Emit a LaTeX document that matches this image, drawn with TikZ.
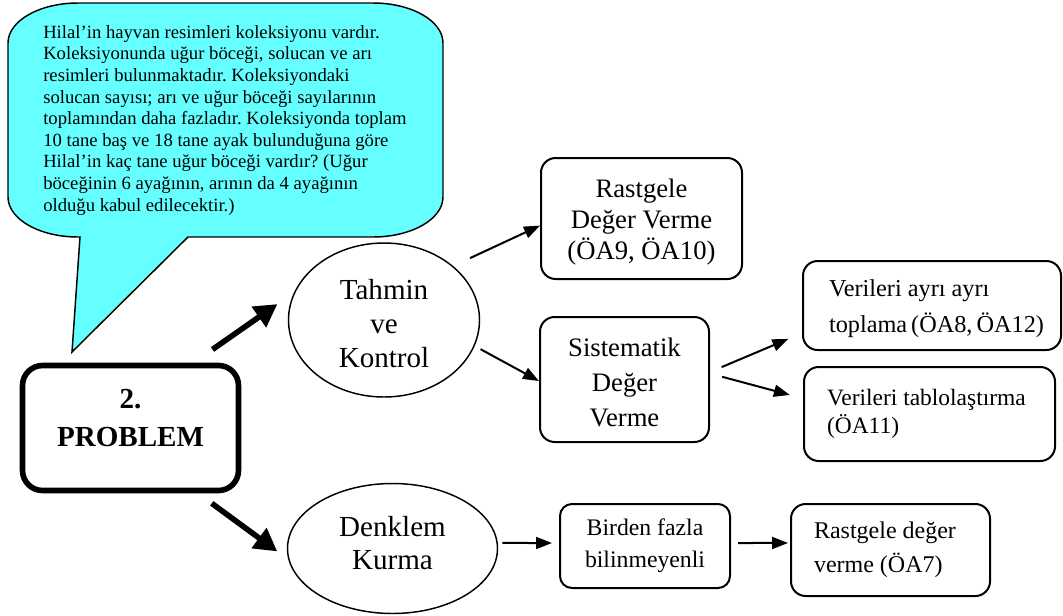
\documentclass[tikz,border=0pt]{standalone}
\usepackage{fontspec}
\setmainfont{Liberation Serif}
\usetikzlibrary{shapes.geometric,arrows.meta}
\definecolor{bubble}{RGB}{102,255,255}
\frenchspacing
\begin{document}
\begin{tikzpicture}[x=0.75pt,y=-0.75pt,
	oval/.style={draw,ellipse,line width=1.1pt,inner sep=0pt,align=center,font=\fontsize{21.8}{25.5}\selectfont},
	roundbox/.style={draw,rounded corners=11pt,line width=1.5pt,inner sep=0pt,align=center},
	notebox/.style={draw,rounded corners=11pt,line width=1.5pt,inner ysep=0pt,align=flush left,font=\fontsize{17.6}{27}\selectfont},
	smallarrow/.style={line width=1.5pt,-{Triangle[length=12pt,width=9pt]}},
	bigarrow/.style={line width=4.2pt,-{Triangle[length=17pt,width=18pt]}}]
	\useasboundingbox (0,0) rectangle (1063,615);

	% speech bubble with the problem text
	\draw[fill=bubble,line width=1.1pt] (78,3) -- (373,3) .. controls (411.6,3) and (443,20.9) .. (443,43)
		-- (443,197) .. controls (443,219.1) and (411.6,237) .. (373,237) -- (188,237) -- (72,352) -- (80,237)
		-- (78,237) .. controls (39.4,237) and (8,219.1) .. (8,197) -- (8,43) .. controls (8,20.9) and (39.4,3) .. (78,3) -- cycle;
	\node[anchor=north west,inner sep=0pt,align=left,font=\fontsize{14}{16.2}\selectfont] at (43,25) (story)
		{Hilal’in hayvan resimleri koleksiyonu vardır.\\
		Koleksiyonunda uğur böceği, solucan ve arı\\
		resimleri bulunmaktadır. Koleksiyondaki\\
		solucan sayısı; arı ve uğur böceği sayılarının\\
		toplamından daha fazladır. Koleksiyonda toplam\\
		10 tane baş ve 18 tane ayak bulunduğuna göre\\
		Hilal’in kaç tane uğur böceği vardır? (Uğur\\
		böceğinin 6 ayağının, arının da 4 ayağının\\
		olduğu kabul edilecektir.)};

	\node[draw,line width=4.2pt,rounded corners=15pt,minimum width=162pt,minimum height=93.75pt,align=center,
		font=\fontsize{21.8}{28.5}\selectfont\bfseries] at (130.5,428) (prob) {2.\\PROBLEM\\[-13.2pt]\mbox{}};

	\node[oval,minimum width=143.25pt,minimum height=115.5pt,text height=71.9pt] at (384,320) (tahmin) {Tahmin\\ve\\Kontrol};
	\node[oval,minimum width=157.5pt,minimum height=97.5pt,text height=32.2pt,font=\fontsize{21.8}{24.75}\selectfont] at (392.5,548.5) (denk) {Denklem\\Kurma};

	\node[roundbox,minimum width=150.75pt,minimum height=90.75pt,text height=66.2pt,font=\fontsize{20}{23.25}\selectfont] at (641.5,218.5) (rast) {Rastgele\\Değer Verme\\(ÖA9, ÖA10)};
	\node[roundbox,minimum width=126.75pt,minimum height=93.75pt,text height=71.2pt,font=\fontsize{20}{26.25}\selectfont] at (624.5,379.5) (sist) {Sistematik\\Değer\\Verme};
	\node[roundbox,minimum width=127.5pt,minimum height=63pt,rounded corners=9pt,font=\fontsize{17.8}{24}\selectfont] at (645,546) (birden) {Birden fazla\\bilinmeyenli};

	\node[notebox,inner xsep=19.5pt,text width=154.5pt,minimum height=66.75pt,text height=18pt,font=\fontsize{18.2}{27}\selectfont] at (932,305.5) (ayri) {Verileri ayrı ayrı\\toplama~(ÖA8,~ÖA12)};
	\node[notebox,inner xsep=17.25pt,text width=153.75pt,minimum height=70.5pt,font=\fontsize{17.6}{21.4}\selectfont] at (929.5,414) (tablo) {Verileri tablolaştırma\\(ÖA11)};
	\node[notebox,inner xsep=17.25pt,text width=114.75pt,minimum height=69pt,font=\fontsize{18}{25.5}\selectfont] at (890.5,550) (rastdeg) {Rastgele değer\\verme (ÖA7)};

	\draw[bigarrow,shorten <=17.3pt,shorten >=15.2pt] (prob.46.6) -- (tahmin.163.7);
	\draw[bigarrow,shorten <=12.7pt,shorten >=10.2pt] (prob.-44.6) -- (denk.186.9);
	\draw[smallarrow,shorten <=14pt] (tahmin.38.3) -- (rast.184.8);
	\draw[smallarrow,shorten <=5pt] (tahmin.-16.8) -- (sist.181);
	\draw[smallarrow,shorten <=9.5pt,shorten >=11.1pt] (sist.5.4) -- (ayri.192.6);
	\draw[smallarrow,shorten <=9.4pt,shorten >=10.2pt] (sist.4.2) -- (tablo.173.9);
	\draw[smallarrow,shorten <=3.3pt,shorten >=5.25pt] (denk.3) -- (birden.178);
	\draw[smallarrow,shorten <=5.25pt,shorten >=1.5pt] (birden.2) -- (rastdeg.176);
\end{tikzpicture}
\end{document}
